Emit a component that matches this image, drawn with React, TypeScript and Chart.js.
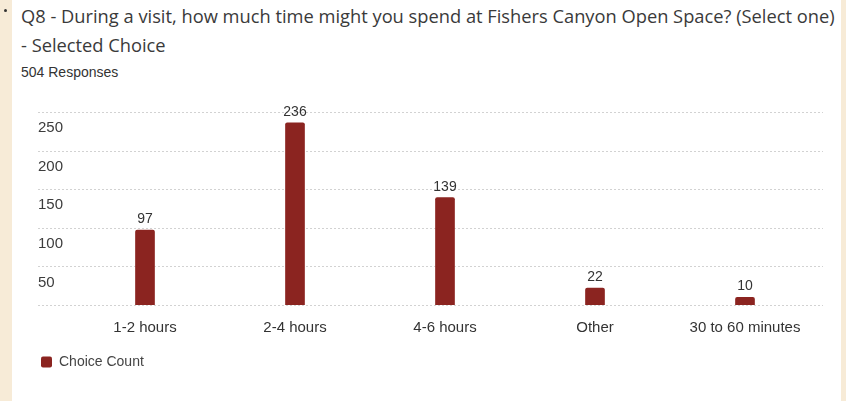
import React, { useEffect, useRef } from "react";
import { Chart, registerables } from "chart.js";

Chart.register(...registerables);

// Survey question and response data
const titleLines = [
  "Q8 - During a visit, how much time might you spend at Fishers Canyon Open Space? (Select one)",
  "- Selected Choice",
];
const responsesText = "504 Responses";
const categories = ["1-2 hours", "2-4 hours", "4-6 hours", "Other", "30 to 60 minutes"];
const choiceCounts = [97, 236, 139, 22, 10];
const seriesName = "Choice Count";
const yMin = 0;
const yMax = 250;
const yStep = 50;

const BAR_COLOR = "#8b2420";
const CHART_FONT = "'Liberation Sans', Arial, sans-serif";

// Dotted horizontal guides that run under the y labels as well as the plot
const dottedGrid = {
  id: "dottedGrid",
  beforeDatasetsDraw(chart: any) {
    const { ctx, chartArea } = chart;
    const y = chart.scales.y;
    ctx.save();
    ctx.strokeStyle = "#d2d2d2";
    ctx.lineWidth = 1;
    ctx.setLineDash([2, 2]);
    y.ticks.forEach((t: any) => {
      const py = Math.round(y.getPixelForValue(t.value)) + 0.5;
      ctx.beginPath();
      ctx.moveTo(y.left, py);
      ctx.lineTo(chartArea.right + 3, py);
      ctx.stroke();
    });
    ctx.restore();
  },
};

// Count printed above each bar
const barValues = {
  id: "barValues",
  afterDatasetsDraw(chart: any) {
    const { ctx } = chart;
    const meta = chart.getDatasetMeta(0);
    const data = chart.data.datasets[0].data;
    ctx.save();
    ctx.font = `14px ${CHART_FONT}`;
    ctx.fillStyle = "#333333";
    ctx.textAlign = "center";
    ctx.textBaseline = "alphabetic";
    meta.data.forEach((bar: any, i: number) => {
      ctx.fillText(String(data[i]), bar.x, bar.y - 7);
    });
    ctx.restore();
  },
};

function QuestionChart() {
  const canvasRef = useRef<HTMLCanvasElement | null>(null);

  useEffect(() => {
    if (!canvasRef.current) return;
    const chart = new Chart(canvasRef.current, {
      type: "bar",
      data: {
        labels: categories,
        datasets: [
          {
            label: seriesName,
            data: choiceCounts,
            backgroundColor: BAR_COLOR,
            borderWidth: 0,
            barThickness: 19,
            borderRadius: { topLeft: 2, topRight: 2, bottomLeft: 0, bottomRight: 0 },
            borderSkipped: "bottom",
          },
        ],
      },
      options: {
        responsive: false,
        maintainAspectRatio: false,
        animation: false,
        layout: { padding: { top: 32, left: 26, right: 21, bottom: 22 } },
        plugins: {
          tooltip: { enabled: false },
          legend: {
            position: "bottom",
            align: "start",
            labels: {
              boxWidth: 11,
              boxHeight: 11,
              padding: 3,
              color: "#444444",
              font: { family: CHART_FONT, size: 14 },
              useBorderRadius: true,
              borderRadius: 2,
            },
          },
        },
        scales: {
          x: {
            grid: { display: false, drawTicks: false },
            border: { display: false },
            ticks: {
              color: "#333333",
              font: { family: CHART_FONT, size: 15 },
              padding: 14,
              maxRotation: 0,
              autoSkip: false,
            },
            afterFit(scale: any) {
              scale.height = 47;
            },
          },
          y: {
            min: yMin,
            max: yMax,
            grid: { display: false, drawTicks: false },
            border: { display: false },
            ticks: {
              stepSize: yStep,
              color: "#3c3c3c",
              font: { family: CHART_FONT, size: 15 },
              crossAlign: "far",
              labelOffset: 16,
              callback: (v: any) => (Number(v) === 0 ? "" : String(v)),
            },
            afterFit(scale: any) {
              scale.width = 32;
            },
          },
        },
      },
      plugins: [dottedGrid, barValues],
    } as any);
    return () => chart.destroy();
  }, []);

  return (
    <canvas
      ref={canvasRef}
      width={829}
      height={321}
      style={{ position: "absolute", left: 12, top: 80, width: 829, height: 321 }}
    />
  );
}

export default function App() {
  useEffect(() => {
    document.body.style.margin = "0";
  }, []);

  return (
    <div
      style={{
        position: "relative",
        width: 846,
        height: 401,
        overflow: "hidden",
        background: "#f7ebd7",
      }}
    >
      <div
        style={{
          position: "absolute",
          left: 4,
          top: 9,
          width: 3,
          height: 3,
          borderRadius: "50%",
          background: "#333",
        }}
      />
      <div
        style={{
          position: "absolute",
          left: 12,
          top: 0,
          width: 829,
          height: 401,
          background: "#ffffff",
        }}
      />
      <div
        style={{
          position: "absolute",
          left: 21,
          top: 1,
          fontFamily: "'Open Sans', 'Noto Sans', sans-serif",
          fontSize: 18.3,
          lineHeight: "29px",
          color: "#3a3a3a",
          whiteSpace: "nowrap",
        }}
      >
        {titleLines.map((line) => (
          <div key={line}>{line}</div>
        ))}
      </div>
      <div
        style={{
          position: "absolute",
          left: 21,
          top: 64,
          fontFamily: CHART_FONT,
          fontSize: 14,
          lineHeight: "16px",
          color: "#333333",
          whiteSpace: "nowrap",
        }}
      >
        {responsesText}
      </div>
      <QuestionChart />
    </div>
  );
}
